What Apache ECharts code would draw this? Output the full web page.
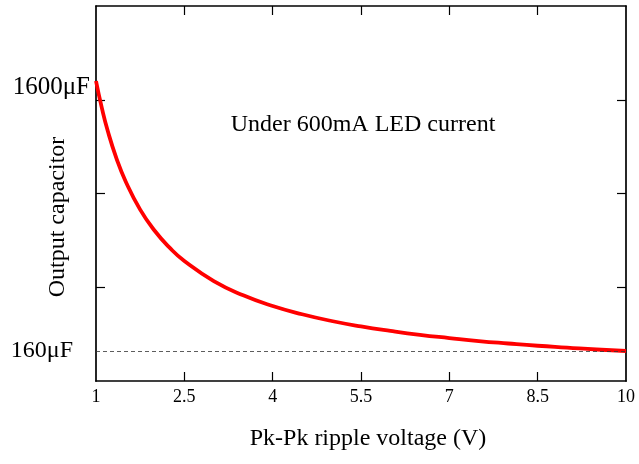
<!DOCTYPE html>
<html>
<head>
<meta charset="utf-8">
<script src="https://cdn.jsdelivr.net/npm/echarts@6/dist/echarts.min.js"></script>
<style>
  html, body { margin: 0; padding: 0; background: #fff; }
  #chart { width: 639px; height: 464px; }
</style>
</head>
<body>
<div id="chart"></div>
<script>
// Ripple voltage (V) and the output capacitance (µF) it requires at 600 mA
const rippleVoltage = [1, 1.1, 1.2, 1.35, 1.5, 1.75, 2, 2.25, 2.5, 3, 3.5, 4, 4.5, 5, 5.5, 6, 6.5, 7, 7.5, 8, 8.5, 9, 9.5, 10];
const capacitance   = [1600, 1455, 1333, 1185, 1067, 914, 800, 711, 640, 533, 457, 400, 356, 320, 291, 267, 246, 229, 213, 200, 188, 178, 168, 160];

const xTicks = [1, 2.5, 4, 5.5, 7, 8.5, 10];
const xTickLabels = ['1', '2.5', '4', '5.5', '7', '8.5', '10'];
const yLabelValues = [160, 1600];
const yLabelTexts = ['160μF', '1600μF'];
const referenceLevel = 160;

const serif = 'Liberation Serif';
const chart = echarts.init(document.getElementById('chart'), null, { renderer: 'canvas' });

const frame = { show: true, onZero: false, lineStyle: { color: '#000', width: 1.7 } };

chart.setOption({
  animation: false,
  backgroundColor: '#fff',
  grid: { left: 96, right: 13, top: 6, bottom: 83 },
  xAxis: [
    {
      type: 'value', min: 1, max: 10, position: 'bottom',
      axisLine: frame,
      axisTick: { show: true, inside: true, length: 9, customValues: xTicks.slice(1, -1),
                  lineStyle: { color: '#000', width: 1.2 } },
      axisLabel: {
        customValues: xTicks,
        formatter: v => xTickLabels[xTicks.indexOf(v)] ?? '',
        fontFamily: serif, fontSize: 18, color: '#000', margin: 7
      },
      splitLine: { show: false },
      name: 'Pk-Pk ripple voltage (V)', nameLocation: 'middle', nameGap: 46,
      nameTextStyle: { fontFamily: serif, fontSize: 24, color: '#000', padding: [0, 0, 0, 14] }
    },
    {
      type: 'value', min: 1, max: 10, position: 'top',
      axisLine: frame,
      axisTick: { show: true, inside: true, length: 9, customValues: xTicks.slice(1, -1),
                  lineStyle: { color: '#000', width: 1.2 } },
      axisLabel: { show: false },
      splitLine: { show: false }
    }
  ],
  yAxis: [
    {
      type: 'value', min: 0, max: 2000, interval: 500, position: 'left',
      axisLine: frame,
      axisTick: { show: true, inside: true, length: 9, customValues: [500, 1000, 1500],
                  lineStyle: { color: '#000', width: 1.2 } },
      axisLabel: {
        customValues: yLabelValues,
        formatter: v => {
          const i = yLabelValues.indexOf(v);
          return i === 0 ? '{low|' + yLabelTexts[0] + '}' : '{high|' + yLabelTexts[1] + '}';
        },
        margin: 6,
        rich: {
          low:  { fontFamily: serif, fontSize: 24, color: '#000', padding: [0, 17, 0, 0] },
          high: { fontFamily: serif, fontSize: 25, color: '#000', padding: [12, 0, 0, 0] }
        }
      },
      splitLine: { show: false }
    },
    {
      type: 'value', min: 0, max: 2000, interval: 500, position: 'right',
      axisLine: frame,
      axisTick: { show: true, inside: true, length: 9, customValues: [500, 1000, 1500],
                  lineStyle: { color: '#000', width: 1.2 } },
      axisLabel: { show: false },
      splitLine: { show: false }
    }
  ],
  graphic: [
    {
      type: 'text', x: 58, y: 217, rotation: Math.PI / 2,
      style: { text: 'Output capacitor', font: '24px "Liberation Serif"', fill: '#000',
               align: 'center', verticalAlign: 'middle' }
    },
    {
      type: 'text', x: 363, y: 125,
      style: { text: 'Under 600mA LED current', font: '24px "Liberation Serif"', fill: '#000',
               align: 'center', verticalAlign: 'middle' }
    }
  ],
  series: [
    {
      type: 'line',
      data: rippleVoltage.map((v, i) => [v, capacitance[i]]),
      smooth: true,
      showSymbol: false,
      lineStyle: { color: '#ff0000', width: 3.8 },
      markLine: {
        silent: true, symbol: 'none', label: { show: false },
        lineStyle: { color: '#333', width: 0.8, type: [4, 3] },
        data: [{ yAxis: referenceLevel }]
      },
      z: 3
    }
  ]
});
</script>
</body>
</html>
